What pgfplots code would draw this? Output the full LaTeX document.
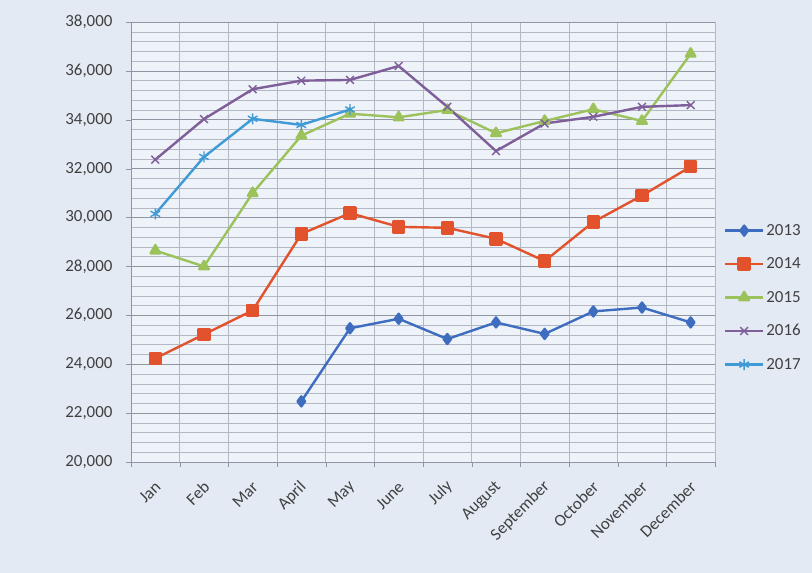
\documentclass[border=0pt]{standalone}
\usepackage{pgfplots}
\pgfplotsset{compat=1.18}
\usepackage{fontspec}
\setmainfont{Carlito}
\definecolor{outerbg}{HTML}{E4EAF4}
\definecolor{plotbg}{HTML}{EEF2F9}
\definecolor{majgrid}{HTML}{8F95A2}
\definecolor{mingrid}{HTML}{B3B8C4}
\definecolor{txt}{HTML}{404040}
\definecolor{c13}{HTML}{3E6DBF}
\definecolor{c14}{HTML}{E2532D}
\definecolor{c15}{HTML}{9CC25B}
\definecolor{c16}{HTML}{7E5F99}
\definecolor{c17}{HTML}{3F9AD6}
\begin{document}
\begin{tikzpicture}
\fill[outerbg] (0bp,0bp) rectangle (812bp,573bp);
\useasboundingbox (0bp,0bp) rectangle (812bp,573bp);
\begin{axis}[
  at={(131bp,111bp)}, anchor=south west,
  scale only axis, width=584bp, height=440bp,
  xmin=0.5, xmax=12.5, ymin=20000, ymax=38000,
  axis background/.style={fill=plotbg},
  xtick={1,...,12},
  xticklabels={Jan,Feb,Mar,April,May,June,July,August,September,October,November,December},
  minor xtick={0.5,1.5,...,12.5},
  xminorgrids=true,
  major x tick style={draw=none},
  minor x tick style={draw=majgrid},
  ytick={20000,22000,...,38000},
  minor y tick num=4,
  ymajorgrids=true, yminorgrids=true,
  major grid style={draw=majgrid, line width=0.7bp},
  minor grid style={draw=mingrid, line width=0.5bp},
  tick align=outside,
  major tick length=5bp, minor tick length=5bp,
  y tick style={draw=majgrid},
  minor y tick style={draw=none},
  axis line style={draw=majgrid, line width=0.8bp},
  axis x line*=bottom, axis y line*=left,
  scaled y ticks=false,
  /pgf/number format/fixed,
  /pgf/number format/1000 sep={,},
  /pgf/number format/assume math mode=true,
  ticklabel style={font=\fontsize{17}{19}\selectfont, text=txt},
  yticklabel style={xshift=-10bp},
  xticklabel style={rotate=45, anchor=east, xshift=-7bp, yshift=-14bp, font=\fontsize{17}{19}\selectfont},
  legend style={at={(1.015,0.545)}, anchor=north west, draw=none, fill=none,
    font=\fontsize{17}{19}\selectfont, text=txt, row sep=16.9bp, inner sep=0pt,
    /tikz/every even column/.append style={column sep=3bp}},
  legend cell align=left,
  legend image code/.code={\draw[mark repeat=2,mark phase=2] plot coordinates {(0bp,0bp) (19bp,0bp) (38bp,0bp)};},
  every axis plot/.append style={line width=2.4bp, line join=round},
]
\addplot[c13, mark=diamond*, mark size=5bp] coordinates {
 (4,22480) (5,25470) (6,25860) (7,25030) (8,25710) (9,25240) (10,26160) (11,26320) (12,25710)};
\addlegendentry{2013}
\addplot[c14, mark=square*, mark size=5.5bp] coordinates {
 (1,24240) (2,25220) (3,26200) (4,29330) (5,30180) (6,29620) (7,29580) (8,29130) (9,28220) (10,29820) (11,30900) (12,32080)};
\addlegendentry{2014}
\addplot[c15, mark=triangle*, mark size=5.5bp] coordinates {
 (1,28650) (2,28000) (3,31000) (4,33350) (5,34250) (6,34100) (7,34400) (8,33450) (9,33950) (10,34430) (11,33950) (12,36700)};
\addlegendentry{2015}
\addplot[c16, mark=x, mark size=5.5bp, mark options={line width=1.4bp}] coordinates {
 (1,32370) (2,34030) (3,35250) (4,35600) (5,35630) (6,36200) (7,34530) (8,32720) (9,33850) (10,34120) (11,34530) (12,34600)};
\addlegendentry{2016}
\addplot[c17, mark=asterisk, mark size=5.5bp, mark options={line width=1.4bp}] coordinates {
 (1,30150) (2,32480) (3,34040) (4,33790) (5,34420)};
\addlegendentry{2017}
\end{axis}
\end{tikzpicture}
\end{document}
